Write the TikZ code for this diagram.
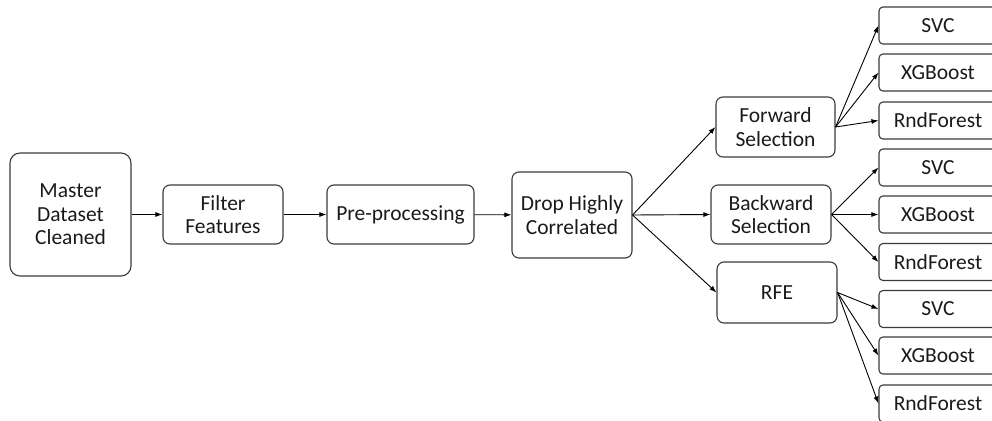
\documentclass[tikz,border=0pt]{standalone}
\usepackage{fontspec}
\setmainfont{Carlito}
\usetikzlibrary{arrows.meta}
\definecolor{edge}{HTML}{3A3A3A}
\definecolor{ink}{HTML}{1A1A1A}
\begin{document}
\begin{tikzpicture}[x=1pt,y=-1pt,
  box/.style={draw=edge,line width=1.1pt,rounded corners=7pt,align=center,
    font=\fontsize{21.5}{23.5}\selectfont,text=ink,inner sep=0pt},
  model/.style={box,rounded corners=4pt,minimum width=118pt,minimum height=37pt},
  link/.style={draw=black,line width=0.9pt,-{Latex[length=7pt,width=5pt]}}]
\useasboundingbox (0,0) rectangle (992,420);
\clip (0,0) rectangle (992,420);
% main pipeline
\node[box,minimum width=121pt,minimum height=123pt,rounded corners=10pt] (master) at (70.5,214.5) {Master\\Dataset\\Cleaned};
\node[box,minimum width=120pt,minimum height=59pt] (filter) at (223,214.5) {Filter\\Features};
\node[box,minimum width=147pt,minimum height=59pt] (pre) at (400.5,214.5) {Pre-processing};
\node[box,minimum width=120pt,minimum height=86pt] (drop) at (572,215) {Drop Highly\\Correlated};
% feature selection methods
\node[box,minimum width=119pt,minimum height=60pt] (fwd) at (775.5,127) {Forward\\Selection};
\node[box,minimum width=120pt,minimum height=59pt] (bwd) at (771,214.5) {Backward\\Selection};
\node[box,minimum width=120pt,minimum height=61pt] (rfe) at (777,292.5) {RFE};
% classifiers
\node[model] (svcA) at (938,25.5) {SVC};
\node[model] (xgbA) at (938,72.5) {XGBoost};
\node[model] (rfA) at (938,120.5) {RndForest};
\node[model] (svcB) at (938,167.5) {SVC};
\node[model] (xgbB) at (938,214.5) {XGBoost};
\node[model] (rfB) at (938,262) {RndForest};
\node[model] (svcC) at (938,309) {SVC};
\node[model] (xgbC) at (938,355.5) {XGBoost};
\node[model] (rfC) at (938,403.5) {RndForest};
% connectors
\draw[link] (master) -- (filter);
\draw[link] (filter) -- (pre);
\draw[link] (pre) -- (drop);
\draw[link] (drop.east) -- (fwd.west);
\draw[link] (drop.east) -- (bwd.west);
\draw[link] (drop.east) -- (rfe.west);
\foreach \m in {svcA,xgbA,rfA}{\draw[link] (fwd.east) -- (\m.west);}
\foreach \m in {svcB,xgbB,rfB}{\draw[link] (bwd.east) -- (\m.west);}
\foreach \m in {svcC,xgbC,rfC}{\draw[link] (rfe.east) -- (\m.west);}
\end{tikzpicture}
\end{document}
